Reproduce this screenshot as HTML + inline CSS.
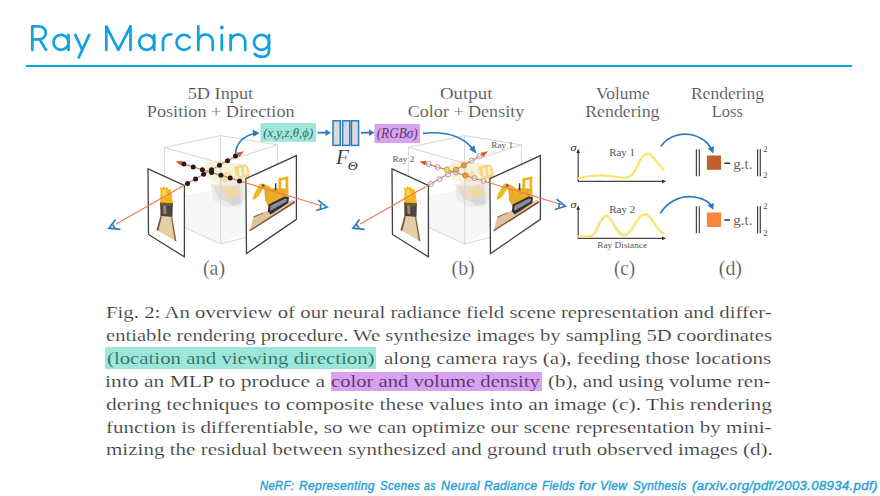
<!DOCTYPE html>
<html><head><meta charset="utf-8">
<style>
html,body{margin:0;padding:0;background:#fff;}
body{width:880px;height:496px;position:relative;overflow:hidden;font-family:"Liberation Serif",serif;}
#rule{position:absolute;left:26px;top:64.6px;width:826.4px;height:2px;background:#14a2df;}
svg{position:absolute;left:0;top:0;}
.ln{position:absolute;left:105.8px;white-space:nowrap;font-size:17.6px;line-height:20px;color:#333;transform-origin:0 0;-webkit-text-stroke:0.2px #fff;}
.hc{color:#2a625b;-webkit-text-stroke-color:#9fe6da;}
.hb{position:absolute;}
.hp{color:#4a2a5a;-webkit-text-stroke-color:#d8a2ee;}
#ref{position:absolute;left:259.5px;top:477px;width:620px;height:18px;font-family:"Liberation Sans",sans-serif;font-style:italic;font-size:12.5px;letter-spacing:0.33px;line-height:18px;color:#27a0d8;-webkit-text-stroke:0.4px #27a0d8;white-space:nowrap;transform-origin:0 0;}
#ref span{position:absolute;top:0;transform-origin:0 0;}
</style></head><body>
<div id="rule"></div>

<svg width="880" height="496" viewBox="0 0 880 496">
<defs>
  <g id="cube">
    <path d="M186,197.5 L220,191 L246,196 L246,231 L220,244 L184.4,227.6 Z" fill="#f7f7f7"/>
    <path d="M164.4,201 L218,190.3 L246,196" fill="none" stroke="#eaeaea" stroke-width="0.8"/>
    <path d="M200,170 L208,162 L220,160 L232,163 L246,164 L250,172 L249,184 L240,188 L224,186 L210,180 Z" fill="#fbf0d8"/>
    <path d="M211,184 L226,183 L244,181 L246,198 L240,207 L226,207 L213,200 Z" fill="#ecebea"/>
    <path d="M213,186 L228,186 L240,184 L242,197 L234,204 L219,199 Z" fill="#e3ddd0"/>
    <path d="M222,188 L236,186 L240,194 L230,199 Z" fill="#efd9a2"/>
    <path d="M234,167 L240,165 L246,165 L249,168 L249.5,177 L244,179 L236,176 Z" fill="#f5d889"/>
    <path d="M239,168 L241,168 L241.5,176 L239.5,176 Z M244,167 L246,167 L246.5,175 L244.5,175 Z" fill="#fff6e0"/>
    <path d="M218,174 L230,171 L234,180 L222,183 Z" fill="#f6e2b0"/>
    <path d="M226,200 L240,195 L242,203 L232,206 Z" fill="#d6d7dc"/>
    <g fill="none" stroke="#d6d6d6" stroke-width="1">
      <path d="M164.4,147.4 L220.6,135.6 L277.4,144.8 L220.6,163.2 Z"/>
      <path d="M220.6,163.2 L220.6,244 M164.4,147.4 L164.4,218 L220.6,244 L277.4,229 L277.4,144.8"/>
      <path d="M220.6,135.6 L220.6,163"/>
    </g>
  </g>
  <g id="leftimg">
    <path d="M148,168.9 L184.4,185.4 L184.4,256.9 L148.5,234.5 Z" fill="#fff" stroke="#404040" stroke-width="1.3"/>
    <path d="M160.5,216 L172.2,217.1 L176.4,241.4 L156.5,230 Z" fill="#e4cfa6"/>
    <path d="M156.5,230 L160.5,216 L161.8,216.5 L158.3,231 Z" fill="#7a5634"/>
    <path d="M172.2,217.1 L176.4,241.4 L174.8,240.8 L171,217.5 Z" fill="#8a6440"/>
    <path d="M160.1,202.3 L172.8,203 L172.5,217.1 L160.5,216 Z" fill="#4a4540"/>
    <path d="M163,205 L166,204.5 L166.5,214 L163.5,214 Z" fill="#9a8a60"/>
    <path d="M160.2,203 L160.6,190 L159.8,187 L162.2,188.6 L163.5,185.8 L165.2,188.2 L167,186.6 L168.2,189.6 L170.2,188.8 L171.4,192.5 L172.9,203.5 Z" fill="#f3b51b"/>
    <path d="M162,190 L166,189.5 L167.5,197 L162.5,198 Z" fill="#fbd443"/>
    <path d="M160.1,202.5 L172.9,203.2 L172.8,206 L160.2,205.5 Z" fill="#6a5a3a"/>
  </g>
  <g id="rightimg">
    <path d="M245.9,178.7 L296.4,155.6 L296.4,219.4 L246.5,253.5 Z" fill="#fff" stroke="#404040" stroke-width="1.3"/>
    <path d="M253.5,216.5 L293.2,199.8 L294.8,201.5 L249.6,230.5 Z" fill="#dcc59e"/>
    <path d="M294.8,201 L249.6,230 L249.4,231.6 L295,202.8 Z" fill="#7a4526"/>
    <path d="M253.5,216.5 L263,212.5 L263,213.6 L253.2,217.8 Z" fill="#9a6a40"/>
    <path d="M264.3,189 L279,188 L288.3,189 L288.3,198.8 L268.6,207.3 L265,200 Z" fill="#e8ad24"/>
    <path d="M267.9,211.5 L270.7,214.4 L288.3,203.1 L289,197.4 L285.5,196 L268.6,204.5 Z" fill="#2f2f35"/>
    <path d="M270.2,211 L286.6,201.6 L287.2,199 L285.2,198.4 L270.4,205.8 Z" fill="#8c8c9a"/>
    <path d="M252.3,199.6 L254.5,193.2 L259.4,184.7 L261.5,183.3 L263.6,184.7 L262.9,189 L258.7,196 L254.5,199.6 Z" fill="#f0b820"/>
    <path d="M261.5,183.3 L266,184.5 L270.5,187 L274.5,193.2 L272,194.2 L268,189.5 L262.9,189 Z" fill="#eeb421"/>
    <path d="M278.4,197.4 L278.4,178.4 L288.3,176.3 L288.3,197 L285.5,197 L285.5,179.5 L281.3,180.4 L281.3,197.4 Z" fill="#edb21f"/>
    <path d="M274.9,183.3 L276.3,183.3 L276.3,190.4 L274.9,190.4 Z" fill="#333"/>
    <path d="M261.8,184.6 L264,184.2 L264.6,186.6 L262.4,187 Z" fill="#556"/>
  </g>
  <g id="camL">
    <path d="M115.5,219.5 L109,228.2 L120.5,229.3" fill="none" stroke="#2a7bc4" stroke-width="1.7" stroke-linejoin="miter"/>
    <path d="M112.3,224 L115.3,228.8" fill="none" stroke="#2a7bc4" stroke-width="1.6"/>
  </g>
  <g id="camR">
    <path d="M318,200.2 L327,207.2 L316.2,210.5" fill="none" stroke="#2a7bc4" stroke-width="1.7" stroke-linejoin="miter"/>
    <path d="M320.8,204 L320.4,209.3" fill="none" stroke="#2a7bc4" stroke-width="1.6"/>
  </g>
</defs>

<!-- title glyphs -->
<g fill="none" stroke="#14a2df" stroke-width="2.75" stroke-linecap="round" stroke-linejoin="round">
  <path d="M32.3,49.9 V26.3 H39.3 A6.5,6.5 0 0 1 39.3,39.3 H32.3 M39.5,39.3 L46,49.9"/>
  <circle cx="61" cy="42.3" r="7.5"/><path d="M68.5,35 V49.9"/>
  <path d="M75.3,34.9 L82.3,50 M89.2,34.9 L78.8,57.4"/>
  <path d="M106.3,49.9 V26.3 L118.4,49.9 L130.5,26.3 V49.9"/>
  <circle cx="146.7" cy="42.3" r="7.5"/><path d="M154.2,35 V49.9"/>
  <path d="M163,49.9 V41.5 C163,36.8 166.5,34.3 171.2,34.3"/>
  <path d="M189.6,37.3 A7.5,7.5 0 1 0 189.6,47.3"/>
  <path d="M198.3,26.3 V49.9 M198.3,41.5 A7.2,7.2 0 0 1 212.7,41.5 V49.9"/>
  <path d="M221.8,35 V49.9"/>
  <path d="M230.6,35 V49.9 M230.6,41.6 A7.3,7.3 0 0 1 245.2,41.6 V49.9"/>
  <circle cx="261.5" cy="42.3" r="7.5"/><path d="M269,35 V51 C269,55 266,56.8 262,56.8 C258.8,56.8 256.4,55.8 254.8,54"/>
</g>
<circle cx="221.8" cy="27.6" r="2" fill="#14a2df"/>

<!-- ===== Panel (a) ===== -->
<use href="#cube"/>
<use href="#leftimg"/>
<use href="#rightimg"/>
<g stroke="#ef7658" stroke-width="1.15" fill="none">
  <path d="M116.2,224 L241,153"/>
  <path d="M179,162.6 L320.5,205.5"/>
</g>
<g fill="#f0502a">
  <path d="M244,151.2 L236.6,152.7 L239.3,157.3 Z"/>
  <path d="M175.6,161.6 L182.4,160.8 L181,165.8 Z"/>
</g>
<g fill="#1b1d24">
  <circle cx="183.9" cy="164.1" r="2.5"/><circle cx="193.2" cy="166.9" r="2.5"/><circle cx="202.4" cy="169.7" r="2.5"/><circle cx="211.6" cy="172.5" r="2.5"/><circle cx="220.9" cy="175.3" r="2.5"/><circle cx="230.2" cy="178.1" r="2.5"/><circle cx="239.5" cy="180.9" r="2.5"/>
  <circle cx="187.6" cy="183.4" r="2.5"/><circle cx="195.6" cy="178.9" r="2.5"/><circle cx="203.6" cy="174.3" r="2.5"/><circle cx="211.5" cy="169.8" r="2.5"/><circle cx="219.5" cy="165.3" r="2.5"/><circle cx="227.5" cy="160.7" r="2.5"/><circle cx="235.5" cy="156.1" r="2.5"/>
</g>
<use href="#camL"/>
<use href="#camR"/>
<path d="M235.6,154 C235.8,144 243,135.5 255,133.5" fill="none" stroke="#2a7bc4" stroke-width="1.7"/>
<path d="M259.5,133 L252.6,129.6 L253.4,136.8 Z" fill="#2a7bc4"/>

<!-- 5D input box -->
<rect x="260.5" y="123" width="55.5" height="18.8" fill="#9fe6da"/>
<text x="288.2" y="137.2" font-family="Liberation Serif" font-style="italic" font-size="13.5" fill="#3a6a64" text-anchor="middle" textLength="50" lengthAdjust="spacingAndGlyphs">(x,y,z,θ,ϕ)</text>
<path d="M317.5,132.7 L327,132.7" stroke="#2a7bc4" stroke-width="1.8"/>
<path d="M331,132.7 L325.5,129.5 L325.5,135.9 Z" fill="#2a7bc4"/>
<!-- network -->
<g fill="#d9d9db" stroke="#2a7bc4" stroke-width="1.5">
  <rect x="333" y="120.8" width="7.2" height="24.6"/>
  <rect x="342.6" y="120.8" width="7.2" height="24.6"/>
  <rect x="351.4" y="120.8" width="7.2" height="24.6"/>
</g>
<text x="336" y="164" font-family="Liberation Serif" font-style="italic" font-size="21" fill="#2a2a2a" stroke="#fff" stroke-width="0.2">F</text>
<text x="347.8" y="170" font-family="Liberation Serif" font-style="italic" font-size="11.5" fill="#333" textLength="10" lengthAdjust="spacingAndGlyphs">Θ</text>
<path d="M361,132.7 L370.5,132.7" stroke="#2a7bc4" stroke-width="1.8"/>
<path d="M374.5,132.7 L369,129.5 L369,135.9 Z" fill="#2a7bc4"/>
<rect x="374.5" y="124" width="45.5" height="19" fill="#d8a2ee"/>
<text x="397.2" y="138.3" font-family="Liberation Serif" font-style="italic" font-size="14" fill="#5a3a6a" text-anchor="middle" textLength="41" lengthAdjust="spacingAndGlyphs">(RGBσ)</text>

<!-- ===== Panel (b) ===== -->
<g transform="translate(244,0)">
  <use href="#cube"/>
  <use href="#leftimg"/>
  <use href="#rightimg"/>
</g>
<g stroke="#ef7658" stroke-width="1.15" fill="none">
  <path d="M360.2,224 L485,153"/>
  <path d="M423,162.6 L564.5,205.5"/>
</g>
<g fill="#f0502a">
  <path d="M488,151.2 L480.6,152.7 L483.3,157.3 Z"/>
  <path d="M419.6,161.6 L426.4,160.8 L425,165.8 Z"/>
</g>
<g fill="#fff" fill-opacity="0.35" stroke="#8d95a4" stroke-width="0.9">
  <circle cx="428.6" cy="164.1" r="2.5"/><circle cx="437.7" cy="167" r="2.5"/><circle cx="456" cy="172.5" r="2.5"/><circle cx="474.5" cy="178.2" r="2.5"/><circle cx="483.5" cy="180.9" r="2.5"/>
  <circle cx="431" cy="184" r="2.5"/><circle cx="439.5" cy="179.2" r="2.5"/><circle cx="448" cy="174.4" r="2.5"/><circle cx="471.5" cy="160.7" r="2.5"/><circle cx="479.5" cy="156.1" r="2.5"/>
</g>
<g stroke="#a09070" stroke-width="0.8">
  <circle cx="446.8" cy="169.6" r="2.7" fill="#f3e23a"/>
  <circle cx="455.9" cy="169.7" r="2.7" fill="#ecb233"/>
  <circle cx="464" cy="165.3" r="2.7" fill="#eb9630"/>
  <circle cx="465.4" cy="175.4" r="2.7" fill="#eb9630"/>
</g>
<g transform="translate(244,0)"><use href="#camL"/></g>
<g transform="translate(238.5,-1)"><use href="#camR"/></g>
<path d="M423,133.3 C445,131 462,136 472,148" fill="none" stroke="#2a7bc4" stroke-width="1.7"/>
<path d="M476.3,153.6 L469.2,149.6 L474.3,145.3 Z" fill="#2a7bc4"/>
<g font-family="Liberation Serif" font-size="9.2" fill="#555">
  <text x="392.6" y="161.5">Ray 2</text>
  <text x="491.3" y="148.2">Ray 1</text>
</g>

<!-- ===== Panel (c) ===== -->
<g stroke="#444" stroke-width="1.2" fill="none">
  <path d="M578.2,181.6 L578.2,151.5 M577.6,181.4 L663.5,181.4"/>
  <path d="M578.2,238.4 L578.2,208.5 M577.6,238.3 L663.5,238.3"/>
</g>
<g fill="#333">
  <path d="M578.2,148.8 L576.3,153 L580.1,153 Z"/>
  <path d="M666.2,181.4 L662,179.5 L662,183.3 Z"/>
  <path d="M578.2,205.6 L576.3,209.8 L580.1,209.8 Z"/>
  <path d="M666.2,238.3 L662,236.4 L662,240.2 Z"/>
</g>
<g font-family="Liberation Serif" font-style="italic" font-size="11" fill="#333">
  <text x="570.6" y="150.6" textLength="6" lengthAdjust="spacingAndGlyphs">σ</text>
  <text x="570.6" y="207.6" textLength="6" lengthAdjust="spacingAndGlyphs">σ</text>
</g>
<g stroke="#f7e674" stroke-width="2.4" fill="none" stroke-linecap="round">
  <path d="M579,178.2 C588,175.8 596,175.2 603,175.4 C612,175.8 620,178.2 626.5,177.6 C634,177 637,166 641,159 C644,154.5 646.5,153.6 648.6,154 C653,155 657,163 663.5,170"/>
  <path d="M579,236.5 L590,236.3 C597,236 600,216 606,215.8 C612,215.6 616,235 624,235.2 C632,235.4 637,214.2 644.6,214.2 C652,214.2 656,231.5 663.5,233.4"/>
</g>
<g font-family="Liberation Serif" font-size="11" fill="#555">
  <text x="609.2" y="156.4" textLength="25.8" lengthAdjust="spacingAndGlyphs">Ray 1</text>
  <text x="609.2" y="213.4" textLength="26.2" lengthAdjust="spacingAndGlyphs">Ray 2</text>
</g>
<text x="597.3" y="247.6" font-family="Liberation Serif" font-size="9" fill="#555" textLength="49.8" lengthAdjust="spacingAndGlyphs">Ray Distance</text>

<!-- ===== Panel (d) ===== -->
<path d="M661,146.2 C668,136 680,133 690,134.5 C700,136 708,142 711.2,148.8" fill="none" stroke="#2a7bc4" stroke-width="1.7"/>
<path d="M713.3,153.4 L707.6,148.5 L714,146.3 Z" fill="#2a7bc4"/>
<path d="M660.2,213.4 C667,203 678,196.5 689,196.6 C700,196.8 707.5,201 711.2,205" fill="none" stroke="#2a7bc4" stroke-width="1.7"/>
<path d="M713.3,209.8 L707.4,205.2 L713.8,202.9 Z" fill="#2a7bc4"/>
<g stroke="#444" stroke-width="1.2">
  <path d="M696.4,149.2 L696.4,176.2 M699.3,149.2 L699.3,176.2 M757.6,149.2 L757.6,176.2 M760.3,149.2 L760.3,176.2"/>
  <path d="M696.4,206.2 L696.4,233.3 M699.3,206.2 L699.3,233.3 M757.6,206.2 L757.6,233.3 M760.3,206.2 L760.3,233.3"/>
  <path d="M724.3,163.2 L730.1,163.2 M724.3,220 L730.1,220" stroke="#333" stroke-width="1.6"/>
</g>
<rect x="706.9" y="155.5" width="14.2" height="14.3" fill="#bf602e"/>
<rect x="706.9" y="212.5" width="14.2" height="14.5" fill="#f7853b"/>
<g font-family="Liberation Serif" font-size="15" fill="#666">
  <text x="733.3" y="168.6" textLength="19.2" lengthAdjust="spacingAndGlyphs">g.t.</text>
  <text x="733.3" y="225.4" textLength="19.2" lengthAdjust="spacingAndGlyphs">g.t.</text>
</g>
<g font-family="Liberation Serif" font-size="8.5" fill="#444">
  <text x="763.2" y="151.6">2</text><text x="763.2" y="178.2">2</text>
  <text x="763.2" y="209.1">2</text><text x="763.2" y="236.2">2</text>
</g>

<!-- header labels -->
<g font-family="Liberation Serif" font-size="16.4" fill="#4a4a4a" stroke="#fff" stroke-width="0.18">
  <text x="187.7" y="98.5" textLength="65.5" lengthAdjust="spacingAndGlyphs">5D Input</text>
  <text x="146.8" y="116.6" textLength="147.8" lengthAdjust="spacingAndGlyphs">Position + Direction</text>
  <text x="440" y="98.6" textLength="52.4" lengthAdjust="spacingAndGlyphs">Output</text>
  <text x="407.8" y="116.7" textLength="116.4" lengthAdjust="spacingAndGlyphs">Color + Density</text>
  <text x="595.9" y="98.6" textLength="53.8" lengthAdjust="spacingAndGlyphs">Volume</text>
  <text x="585.2" y="116.8" textLength="74.3" lengthAdjust="spacingAndGlyphs">Rendering</text>
  <text x="690.9" y="98.6" textLength="73.1" lengthAdjust="spacingAndGlyphs">Rendering</text>
  <text x="711.8" y="116.8" textLength="31" lengthAdjust="spacingAndGlyphs">Loss</text>
</g>
<g font-family="Liberation Serif" font-size="20.5" fill="#4a4a4a" stroke="#fff" stroke-width="0.25">
  <text x="203" y="275.2" textLength="22" lengthAdjust="spacingAndGlyphs">(a)</text>
  <text x="451.6" y="275.2" textLength="23" lengthAdjust="spacingAndGlyphs">(b)</text>
  <text x="613.9" y="275.2" textLength="21.2" lengthAdjust="spacingAndGlyphs">(c)</text>
  <text x="718.8" y="275.2" textLength="23.2" lengthAdjust="spacingAndGlyphs">(d)</text>
</g>
</svg>

<div class="hb" style="left:104.9px;top:347.4px;width:270.8px;height:21.6px;background:#9fe6da"></div>
<div class="hb" style="left:331.2px;top:372px;width:210.7px;height:18.8px;background:#d8a2ee"></div>
<div class="ln" id="l1" style="top:301.76px;transform:scaleX(1.1831)">Fig. 2: An overview of our neural radiance field scene representation and differ-</div>
<div class="ln" id="l2" style="top:324.71px;transform:scaleX(1.1726)">entiable rendering procedure. We synthesize images by sampling 5D coordinates</div>
<div class="ln" style="left:106.82px;top:347.66px;transform:scaleX(1.1827)"><span class="hc">(location and viewing direction)</span></div>
<div class="ln" style="left:383.80px;top:347.66px;transform:scaleX(1.1994)">along camera rays (a), feeding those locations</div>
<div class="ln" style="left:105.07px;top:370.61px;transform:scaleX(1.2253)">into an MLP to produce a</div>
<div class="ln" style="left:331.23px;top:370.61px;transform:scaleX(1.1712)"><span class="hp">color and volume density</span></div>
<div class="ln" style="left:547.56px;top:370.61px;transform:scaleX(1.1895)">(b), and using volume ren-</div>
<div class="ln" id="l5" style="top:393.56px;transform:scaleX(1.2223)">dering techniques to composite these values into an image (c). This rendering</div>
<div class="ln" id="l6" style="top:416.51px;transform:scaleX(1.1937)">function is differentiable, so we can optimize our scene representation by mini-</div>
<div class="ln" id="l7" style="top:439.46px;transform:scaleX(1.1959)">mizing the residual between synthesized and ground truth observed images (d).</div>

<div id="ref"><span style="left:0.90px;transform:scaleX(0.905)">NeRF:</span><span style="left:39.80px;transform:scaleX(0.969)">Representing</span><span style="left:120.50px;transform:scaleX(0.919)">Scenes</span><span style="left:164.60px;transform:scaleX(0.843)">as</span><span style="left:181.50px;transform:scaleX(1.003)">Neural</span><span style="left:224.70px;transform:scaleX(0.965)">Radiance</span><span style="left:282.80px;transform:scaleX(0.934)">Fields</span><span style="left:319.10px;transform:scaleX(1.112)">for</span><span style="left:340.93px;transform:scaleX(0.971)">View</span><span style="left:373.70px;transform:scaleX(0.937)">Synthesis</span><span style="left:432.30px;transform:scaleX(1.052)">(arxiv.org/pdf/2003.08934.pdf)</span></div>
</body></html>
